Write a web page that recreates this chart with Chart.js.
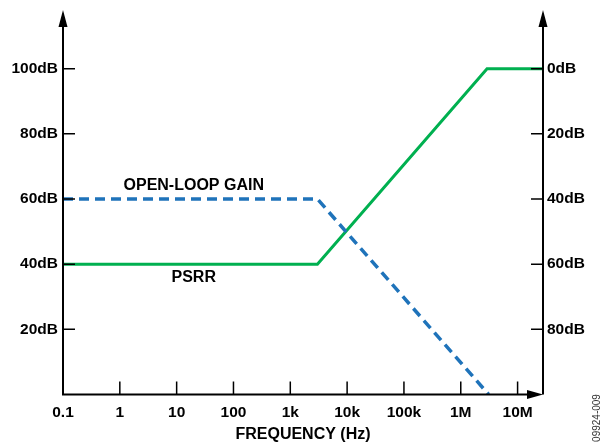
<!DOCTYPE html>
<html>
<head>
<meta charset="utf-8">
<title>PSRR and open-loop gain</title>
<script src="https://cdn.jsdelivr.net/npm/chart.js@4/dist/chart.umd.min.js"></script>
<style>
  html, body { margin: 0; padding: 0; background: #fff; }
  canvas { display: block; }
</style>
</head>
<body>
<canvas id="bodeChart" width="600" height="444"></canvas>
<script>
// Frequency axis (Hz), log scale
const freqTicks = [0.1, 1, 10, 100, 1e3, 1e4, 1e5, 1e6, 1e7];
const freqLabels = ['0.1', '1', '10', '100', '1k', '10k', '100k', '1M', '10M'];

// Left axis (PSRR / gain in dB) and right axis (0dB at top)
const leftTicks = [20, 40, 60, 80, 100];
const rightTicks = [0, 20, 40, 60, 80];

// Open-loop gain (dashed blue)
const gainFreq = [0.1, 3e3, 3.1e6];
const gainDb = [60, 60, 0];

// PSRR (solid green)
const psrrFreq = [0.1, 3e3, 2.9e6, 2.8e7];
const psrrDb = [40, 40, 100, 100];

// Text labels placed in data coordinates
const curveLabels = [
    { text: 'OPEN-LOOP GAIN', freq: 20, db: 64 },
    { text: 'PSRR', freq: 20, db: 36 }
];

const FONT = '"Liberation Sans", Arial, sans-serif';
const GREEN = '#00b050';
const BLUE = '#1f73ba';

function toPoints(xs, ys) {
    return xs.map((x, i) => ({ x: x, y: ys[i] }));
}

// no extra label padding, so the plot box stays where we put it
function noPad(scale) {
    scale.paddingTop = 0;
    scale.paddingBottom = 0;
    scale.paddingLeft = 0;
    scale.paddingRight = 0;
}

// Axes with arrow heads, inward tick marks and text labels
const axesPlugin = {
    id: 'axesPlugin',
    afterDatasetsDraw(chart) {
        const ctx = chart.ctx;
        const area = chart.chartArea;
        const xs = chart.scales.x;
        const yl = chart.scales.y;
        const yr = chart.scales.y2;
        const left = area.left, right = area.right, top = area.top, bottom = area.bottom;

        ctx.save();
        ctx.strokeStyle = '#000';
        ctx.fillStyle = '#000';
        ctx.lineWidth = 2;

        // axis lines
        ctx.beginPath();
        ctx.moveTo(left, top + 10);
        ctx.lineTo(left, bottom);
        ctx.lineTo(right - 10, bottom);
        ctx.moveTo(right, top + 10);
        ctx.lineTo(right, bottom);
        ctx.stroke();

        // arrow heads
        function arrowUp(x) {
            ctx.beginPath();
            ctx.moveTo(x, top);
            ctx.lineTo(x - 4.5, top + 17);
            ctx.lineTo(x + 4.5, top + 17);
            ctx.closePath();
            ctx.fill();
        }
        arrowUp(left);
        arrowUp(right);
        ctx.beginPath();
        ctx.moveTo(right, bottom);
        ctx.lineTo(right - 16, bottom - 4.5);
        ctx.lineTo(right - 16, bottom + 4.5);
        ctx.closePath();
        ctx.fill();

        // inward tick marks
        ctx.lineWidth = 1.5;
        ctx.beginPath();
        freqTicks.forEach(f => {
            const px = xs.getPixelForValue(f);
            if (px - left < 3) return;
            ctx.moveTo(px, bottom);
            ctx.lineTo(px, bottom - 13);
        });
        leftTicks.forEach(v => {
            const py = yl.getPixelForValue(v);
            ctx.moveTo(left, py);
            ctx.lineTo(left + 12, py);
        });
        rightTicks.forEach(v => {
            const py = yr.getPixelForValue(v);
            ctx.moveTo(right, py);
            ctx.lineTo(right - 12, py);
        });
        ctx.stroke();

        // curve labels
        ctx.font = 'bold 16px ' + FONT;
        ctx.textAlign = 'center';
        ctx.textBaseline = 'middle';
        curveLabels.forEach(l => {
            ctx.fillText(l.text, xs.getPixelForValue(l.freq), yl.getPixelForValue(l.db));
        });

        // figure id, rotated
        ctx.translate(597, 418);
        ctx.rotate(-Math.PI / 2);
        ctx.font = '10px ' + FONT;
        ctx.fillStyle = '#333';
        ctx.fillText('09924-009', 0, 0);
        ctx.restore();
    }
};

const tickFont = { family: FONT, size: 15.5, weight: 'bold' };

new Chart(document.getElementById('bodeChart'), {
    type: 'line',
    data: {
        datasets: [
            {
                label: 'OPEN-LOOP GAIN',
                data: toPoints(gainFreq, gainDb),
                borderColor: BLUE,
                borderWidth: 3.5,
                borderDash: [10, 6],
                pointRadius: 0,
                tension: 0,
                fill: false,
                yAxisID: 'y'
            },
            {
                label: 'PSRR',
                data: toPoints(psrrFreq, psrrDb),
                borderColor: GREEN,
                borderWidth: 3,
                pointRadius: 0,
                tension: 0,
                fill: false,
                yAxisID: 'y'
            }
        ]
    },
    options: {
        responsive: false,
        animation: false,
        layout: { padding: { top: 10, left: 0, right: 0, bottom: 0 } },
        plugins: {
            legend: { display: false },
            tooltip: { enabled: false }
        },
        scales: {
            x: {
                type: 'logarithmic',
                min: 0.1,
                max: 2.8e7,
                afterBuildTicks: scale => { scale.ticks = freqTicks.map(v => ({ value: v })); },
                afterFit: scale => { scale.height = 49.5; noPad(scale); },
                ticks: {
                    callback: (v, i) => freqLabels[i],
                    font: tickFont,
                    color: '#000',
                    padding: 9,
                    maxRotation: 0,
                    autoSkip: false
                },
                grid: { display: false, drawTicks: false },
                border: { display: false },
                title: {
                    display: true,
                    text: 'FREQUENCY (Hz)',
                    font: { family: FONT, size: 16, weight: 'bold' },
                    color: '#000',
                    padding: { top: 0, bottom: 0 }
                }
            },
            y: {
                position: 'left',
                min: 0,
                max: 118,
                afterBuildTicks: scale => { scale.ticks = leftTicks.map(v => ({ value: v })); },
                afterFit: scale => { scale.width = 63; noPad(scale); },
                ticks: {
                    callback: v => v + 'dB',
                    font: tickFont,
                    color: '#000',
                    padding: 5
                },
                grid: { display: false, drawTicks: false },
                border: { display: false }
            },
            y2: {
                position: 'right',
                reverse: true,
                min: -18,
                max: 100,
                afterBuildTicks: scale => { scale.ticks = rightTicks.map(v => ({ value: v })); },
                afterFit: scale => { scale.width = 57; noPad(scale); },
                ticks: {
                    callback: v => v + 'dB',
                    font: tickFont,
                    color: '#000',
                    padding: 4
                },
                grid: { display: false, drawTicks: false },
                border: { display: false }
            }
        }
    },
    plugins: [axesPlugin]
});
</script>
</body>
</html>
